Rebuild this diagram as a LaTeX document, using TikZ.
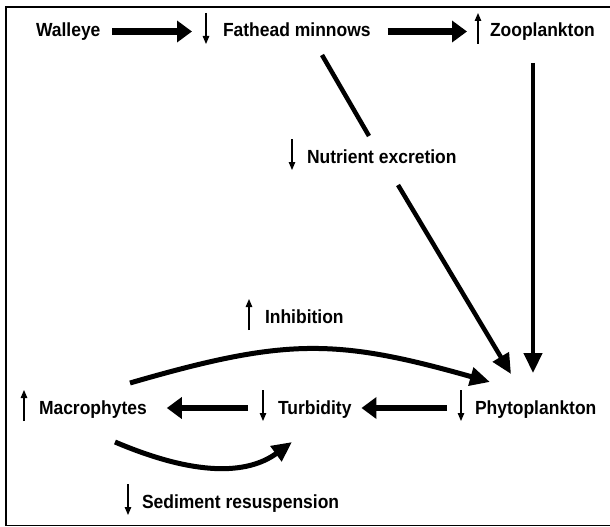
\documentclass[tikz,border=0pt]{standalone}
\usepackage{fontspec}
\setmainfont{Liberation Sans}[FakeStretch=0.92]
\usetikzlibrary{arrows.meta}
\tikzset{
  lbl/.style={anchor=base west, inner sep=0pt, outer sep=0pt, font=\fontsize{19}{22}\selectfont\bfseries},
  smallarr/.style={line width=1.2pt, -{Triangle[length=8pt,width=6.5pt]}},
  bigarr/.style={line width=6.5pt, -{Triangle[length=15pt,width=21pt]}},
  midarr/.style={line width=4.5pt, -{Triangle[length=20pt,width=18pt]}},
  curvearr/.style={line width=5pt, -{Triangle[length=20pt,width=18pt]}},
  plainline/.style={line width=4.5pt},
  frame/.style={line width=1.5pt}
}
\newcommand\smallup[2]{\draw[smallarr] ([xshift=#2,yshift=-7pt]#1.base west) -- ([xshift=#2,yshift=24pt]#1.base west);}
\newcommand\smalldown[2]{\draw[smallarr] ([xshift=#2,yshift=24pt]#1.base west) -- ([xshift=#2,yshift=-7pt]#1.base west);}
\begin{document}
\begin{tikzpicture}[x=1pt,y=-1pt]
\useasboundingbox (0,0) rectangle (610,527);
\fill[white] (0,0) rectangle (610,527);
\draw[frame] (610,7) -- (6,7) -- (6,525.5) -- (610,525.5);

\node[lbl] (walleye)  at (36,37)  {Walleye};
\node[lbl] (fathead)  at (223,37) {Fathead minnows};
\node[lbl] (zoo)      at (490,37) {Zooplankton};
\node[lbl] (nutrient) at (307,163) {Nutrient excretion};
\node[lbl] (inhib)    at (265,323) {Inhibition};
\node[lbl] (macro)    at (39,414) {Macrophytes};
\node[lbl] (turb)     at (278,414) {Turbidity};
\node[lbl] (phyto)    at (475,414) {Phytoplankton};
\node[lbl] (sediment) at (142,508) {Sediment resuspension};

\smalldown{fathead}{-17pt}
\smallup{zoo}{-12pt}
\smalldown{nutrient}{-15pt}
\smallup{inhib}{-16pt}
\smallup{macro}{-15pt}
\smalldown{turb}{-15pt}
\smalldown{phyto}{-14pt}
\smalldown{sediment}{-14pt}

\draw[bigarr] ([xshift=12pt,yshift=5.5pt]walleye.base east) -- ([xshift=-31pt,yshift=5.5pt]fathead.base west);
\draw[bigarr] ([xshift=17pt,yshift=5.5pt]fathead.base east) -- ([xshift=-23pt,yshift=5.5pt]zoo.base west);
\draw[bigarr] ([xshift=-28pt,yshift=6pt]phyto.base west) -- ([xshift=10pt,yshift=6pt]turb.base east);
\draw[bigarr] ([xshift=-30pt,yshift=6pt]turb.base west) -- ([xshift=20pt,yshift=6pt]macro.base east);

\draw[midarr] ([xshift=43pt,yshift=-26pt]zoo.base west) -- ([xshift=58pt,yshift=41pt]phyto.base west);
\draw[plainline] ([xshift=99pt,yshift=-18pt]fathead.base west) -- ([xshift=62pt,yshift=27pt]nutrient.base west);
\draw[midarr] ([xshift=91pt,yshift=-22pt]nutrient.base west) -- ([xshift=36pt,yshift=40pt]phyto.base west);

\draw[curvearr] ([xshift=91pt,yshift=31pt]macro.base west) .. controls (285,338) and (335,338) .. ([xshift=15pt,yshift=32pt]phyto.base west);
\draw[curvearr] ([xshift=76pt,yshift=-28pt]macro.base west) .. controls (195,476) and (247,475) .. ([xshift=14pt,yshift=-28pt]turb.base west);
\end{tikzpicture}
\end{document}
